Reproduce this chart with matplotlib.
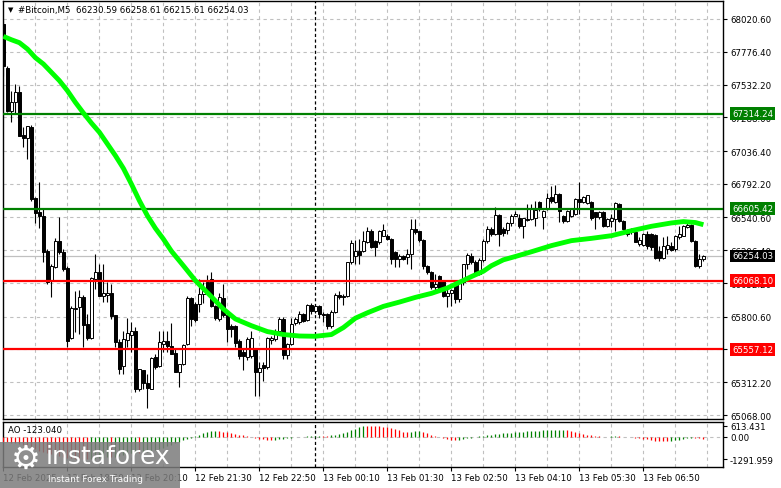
import numpy as np
import matplotlib
matplotlib.use("Agg")
import matplotlib.pyplot as plt
from matplotlib.patches import Rectangle
from matplotlib.transforms import blended_transform_factory

# M5 candles, #Bitcoin, 12 Feb 17:30 .. 13 Feb 08:05
opens = [
    67983, 67653, 67337, 67399, 67474, 67156, 67131, 67213, 66684, 66579,
    66554, 66288, 66070, 66169, 66368, 66281, 66162, 65640, 65858, 65871,
    65950, 65747, 65640, 66082, 66132, 65958, 65963, 65978, 65814, 65610,
    65436, 65630, 65667, 65692, 65262, 65406, 65307, 65262, 65498, 65436,
    65597, 65617, 65585, 65530, 65386, 65448, 65597, 65940, 65896, 65896,
    65970, 66060, 66082, 65883, 65784, 65938, 65814, 65734, 65734, 65622,
    65540, 65498, 65505, 65560, 65386, 65440, 65424, 65627, 65635, 65697,
    65784, 65515, 65597, 65751, 65764, 65821, 65779, 65888, 65846, 65878,
    65821, 65821, 65734, 65838, 65963, 65958, 65958, 66206, 66256, 66294,
    66294, 66360, 66443, 66368, 66355, 66405, 66405, 66380, 66281, 66231,
    66256, 66244, 66269, 66455, 66437, 66375, 66181, 66132, 66020, 66107,
    66070, 65953, 65978, 66040, 65930, 66057, 66194, 66251, 66211, 66119,
    66226, 66368, 66455, 66418, 66559, 66455, 66450, 66500, 66554, 66534,
    66475, 66529, 66529, 66534, 66654, 66542, 66604, 66691, 66659, 66716,
    66554, 66517, 66554, 66567, 66679, 66654, 66649, 66654, 66579, 66542,
    66584, 66480, 66517, 66529, 66641, 66517, 66450, 66430, 66430, 66343,
    66336, 66418, 66418, 66410, 66293, 66236, 66306, 66326, 66306, 66393,
    66405, 66467, 66485, 66368, 66177, 66230.59,
]
highs = [
    68008, 67673, 67486, 67536, 67524, 67213, 67225, 67230, 66691, 66803,
    66604, 66306, 66194, 66385, 66542, 66306, 66181, 65878, 65995, 66000,
    65963, 65821, 66095, 66269, 66194, 66194, 66057, 66045, 65814, 65635,
    65697, 65791, 65759, 65722, 65411, 65406, 65374, 65498, 65523, 65697,
    65697, 65697, 65754, 65560, 65448, 65597, 65958, 65945, 65908, 66082,
    66060, 66110, 66132, 65890, 65980, 66045, 65845, 65746, 65740, 65635,
    65565, 65650, 65697, 65570, 65466, 65466, 65650, 65660, 65710, 65800,
    65800, 65605, 65790, 65800, 65840, 65830, 65898, 65900, 65895, 65885,
    65835, 65830, 65850, 65975, 65990, 65970, 66210, 66370, 66370, 66380,
    66440, 66468, 66455, 66375, 66450, 66492, 66415, 66385, 66290, 66269,
    66262, 66306, 66530, 66530, 66440, 66380, 66185, 66140, 66120, 66110,
    66075, 66008, 66008, 66060, 66065, 66194, 66276, 66276, 66220, 66240,
    66380, 66480, 66470, 66616, 66565, 66470, 66505, 66570, 66590, 66567,
    66540, 66641, 66641, 66666, 66660, 66600, 66721, 66778, 66783, 66720,
    66560, 66600, 66615, 66685, 66808, 66700, 66710, 66660, 66585, 66590,
    66590, 66535, 66567, 66659, 66650, 66520, 66455, 66460, 66440, 66393,
    66425, 66440, 66425, 66415, 66326, 66393, 66405, 66355, 66410, 66475,
    66485, 66500, 66490, 66370, 66268, 66258.61,
]
lows = [
    67598, 67325, 67250, 67312, 67146, 67064, 66977, 66666, 66500, 66460,
    66206, 66045, 65945, 66162, 66268, 66144, 65573, 65635, 65684, 65672,
    65573, 65630, 65635, 66008, 65953, 65913, 65908, 65784, 65573, 65374,
    65374, 65573, 65535, 65237, 65250, 65262, 65118, 65262, 65411, 65424,
    65535, 65535, 65523, 65386, 65274, 65441, 65590, 65729, 65764, 65833,
    65900, 65980, 65870, 65780, 65770, 65800, 65610, 65647, 65573, 65486,
    65400, 65480, 65490, 65212, 65212, 65320, 65410, 65600, 65620, 65680,
    65486, 65486, 65590, 65740, 65750, 65760, 65770, 65820, 65830, 65790,
    65760, 65710, 65720, 65830, 65930, 65890, 65950, 66194, 66194, 66194,
    66280, 66350, 66310, 66256, 66345, 66400, 66370, 66194, 66169, 66169,
    66220, 66194, 66157, 66420, 66360, 66157, 66120, 66010, 65995, 65985,
    65950, 65870, 65883, 65900, 65910, 66040, 66157, 66194, 66112, 66110,
    66210, 66350, 66400, 66410, 66326, 66400, 66420, 66480, 66550, 66460,
    66385, 66515, 66520, 66480, 66590, 66455, 66595, 66650, 66650, 66510,
    66500, 66505, 66545, 66560, 66570, 66645, 66640, 66520, 66455, 66530,
    66470, 66470, 66467, 66442, 66505, 66445, 66405, 66420, 66355, 66331,
    66330, 66306, 66300, 66231, 66219, 66231, 66268, 66293, 66293, 66380,
    66400, 66460, 66360, 66174, 66162, 66215.61,
]
closes = [
    67673, 67337, 67399, 67474, 67151, 67131, 67220, 66679, 66572, 66554,
    66286, 66057, 66182, 66368, 66281, 66157, 65622, 65863, 65868, 65950,
    65742, 65640, 66087, 66132, 65958, 65978, 65978, 65804, 65610, 65411,
    65635, 65679, 65692, 65262, 65411, 65307, 65267, 65493, 65424, 65615,
    65622, 65585, 65523, 65386, 65448, 65592, 65940, 65784, 65779, 65970,
    65990, 65995, 65883, 65790, 65945, 65814, 65709, 65709, 65605, 65510,
    65510, 65635, 65640, 65386, 65416, 65420, 65640, 65640, 65697, 65784,
    65515, 65597, 65746, 65784, 65821, 65771, 65888, 65846, 65883, 65821,
    65814, 65734, 65838, 65963, 65945, 65945, 66206, 66350, 66294, 66260,
    66368, 66443, 66318, 66318, 66443, 66450, 66380, 66231, 66231, 66256,
    66231, 66269, 66455, 66430, 66375, 66181, 66132, 66020, 66045, 65995,
    65958, 65978, 66003, 65930, 66050, 66194, 66261, 66211, 66119, 66226,
    66368, 66455, 66418, 66559, 66418, 66425, 66500, 66549, 66567, 66475,
    66534, 66524, 66604, 66599, 66604, 66592, 66684, 66666, 66716, 66592,
    66517, 66592, 66604, 66679, 66654, 66691, 66708, 66534, 66542, 66579,
    66480, 66529, 66534, 66649, 66517, 66455, 66418, 66450, 66360, 66375,
    66418, 66326, 66318, 66236, 66236, 66331, 66336, 66301, 66400, 66418,
    66475, 66485, 66368, 66177, 66231, 66254.03,
]

# moving average (green line), read at selected bars
ma_bars = [0, 2, 4, 6, 8, 10, 12, 14, 16, 18, 20, 22, 24, 26, 28, 30, 32, 34, 36, 38,
           40, 42, 45, 48, 52, 55, 58, 62, 66, 70, 74, 78, 82, 85, 88, 91, 95, 99, 103, 107,
           111, 114, 117, 120, 122, 125, 128, 132, 137, 142, 147, 152, 157, 162, 167, 170, 173, 175]
ma_vals = [67891, 67866, 67844, 67797, 67732, 67685, 67623, 67561, 67486, 67399,
           67320, 67245, 67176, 67089, 67002, 66907, 66790, 66666, 66554, 66460,
           66380, 66290, 66181, 66070, 65950, 65858, 65784, 65734, 65690, 65668,
           65657, 65655, 65668, 65720, 65790, 65830, 65878, 65910, 65945, 65975,
           66015, 66057, 66100, 66140, 66181, 66225, 66250, 66285, 66331, 66368,
           66385, 66405, 66442, 66475, 66500, 66510, 66503, 66487]

# Awesome Oscillator
ao = [
    -310, -330, -360, -390, -430, -490, -560, -640, -720, -800,
    -880, -950, -1010, -1070, -1120, -1160, -1200, -1230, -1255, -1270,
    -1282, -1291.959, -1275, -1250, -1220, -1190, -1160, -1170, -1140, -1100,
    -1060, -1010, -960, -930, -935, -910, -880, -840, -790, -730,
    -650, -560, -470, -390, -280, -200, -130, -60, 20, 110,
    190, 260, 310, 330, 300, 270, 240, 200, 160, 110,
    70, 20, -30, -70, -110, -150, -180, -200, -185, -160,
    -130, -100, -70, -40, -20, -5, 15, 35, 50, 60,
    55, 50, 70, 100, 140, 200, 280, 370, 460, 540,
    613.431, 605, 598, 590, 585, 575, 540, 500, 450, 380,
    290, 270, 285, 310, 330, 280, 200, 110, 40, -10,
    -60, -120, -170, -194, -170, -130, -90, -50, -15, 20,
    50, 80, 110, 140, 165, 190, 210, 230, 250, 265,
    280, 295, 305, 320, 335, 350, 360, 370, 378, 385,
    390, 360, 310, 260, 210, 160, 115, 75, 40, 15,
    5, -8, 10, 20, 12, 0, -10, -25, -50, -80,
    -120, -160, -200, -230, -250, -260, -265, -240, -210, -170,
    -130, -90, -60, -80, -100, -123.04,
]

price_ticks = [68020.60, 67776.40, 67532.20, 67288.00, 67036.40, 66792.20, 66540.60,
               66296.40, 66052.20, 65800.60, 65556.40, 65312.20, 65068.00]
time_bars = [0, 16, 32, 48, 64, 80, 96, 112, 128, 144, 160]
time_labels = ["12 Feb 2025", "12 Feb 18:50", "12 Feb 20:10", "12 Feb 21:30", "12 Feb 22:50",
               "13 Feb 00:10", "13 Feb 01:30", "13 Feb 02:50", "13 Feb 04:10", "13 Feb 05:30",
               "13 Feb 06:50"]
green_levels = [67314.24, 66605.42]
red_levels = [66068.10, 65557.12]
day_sep = 78

FS = 6.2
o = np.array(opens); h = np.array(highs); l = np.array(lows); c = np.array(closes)
x = np.arange(len(c))

fig = plt.figure(figsize=(7.81, 4.89), dpi=100)
ax = fig.add_axes([3/781, 69/489, 720/781, 418/489])
ax2 = fig.add_axes([3/781, 21/489, 720/781, 45/489])

grid_kw = dict(color='#c0c0c0', lw=0.8, ls=(0, (3, 3)), zorder=0)
for p in price_ticks:
    ax.axhline(p, **grid_kw)
for b in range(8, 180, 8):
    ax.axvline(b, **grid_kw)
    ax2.axvline(b, **grid_kw)
ax2.axhline(0, **grid_kw)
for a in (ax, ax2):
    a.axvline(day_sep, color='black', lw=0.9, ls=(0, (2.5, 2)), zorder=1)

# current price line
ax.axhline(c[-1], color='#c0c0c0', lw=0.9, zorder=1)

# candles
up = c >= o
ax.vlines(x, l, h, color='black', lw=0.8, zorder=3)
bottom = np.minimum(o, c)
height = np.maximum(np.abs(c - o), 2)
ax.bar(x[up], height[up], bottom=bottom[up], width=0.6, facecolor='white',
       edgecolor='black', linewidth=0.7, zorder=4)
ax.bar(x[~up], height[~up], bottom=bottom[~up], width=0.6, facecolor='black',
       edgecolor='black', linewidth=0.7, zorder=4)

# levels
for lv in green_levels:
    ax.axhline(lv, color='#008000', lw=1.6, zorder=5)
for lv in red_levels:
    ax.axhline(lv, color='#ff0000', lw=1.6, zorder=5)

ax.plot(ma_bars, ma_vals, color='#00ff00', lw=3.5, zorder=6, solid_capstyle='butt')

ax.set_xlim(-0.1, 179.9)
ax.set_ylim(65038.2, 68154.8)
ax.set_xticks([])
ax.yaxis.tick_right()
ax.set_yticks(price_ticks)
ax.set_yticklabels([f"{p:.2f}" for p in price_ticks])
ax.tick_params(axis='y', length=3, width=0.8, pad=2, labelsize=FS)

trans = blended_transform_factory(ax.transAxes, ax.transData)
def tag(a, tr, val, fc):
    a.annotate(f"{val:.2f}", xy=(1, val), xycoords=tr, xytext=(6.5, 0),
               textcoords='offset points', ha='left', va='center', color='white',
               fontsize=FS, annotation_clip=False, zorder=10,
               bbox=dict(boxstyle='square,pad=0.22', fc=fc, ec='none'))
for lv in green_levels:
    tag(ax, trans, lv, '#008000')
for lv in red_levels:
    tag(ax, trans, lv, '#ff0000')
tag(ax, trans, c[-1], 'black')

# AO panel
ao_arr = np.array(ao)
ao_col = ['#ff0000'] + ['#008000' if ao_arr[i] > ao_arr[i - 1] else '#ff0000'
                        for i in range(1, len(ao_arr))]
ax2.vlines(x, 0, ao_arr, colors=ao_col, lw=0.9, zorder=3)
ax2.set_xlim(-0.1, 179.9)
ax2.set_ylim(-1731, 834)
ax2.yaxis.tick_right()
ax2.set_yticks([613.431, 0, -1291.959])
ax2.set_yticklabels(["613.431", "0.00", "-1291.959"])
ax2.tick_params(axis='y', length=3, width=0.8, pad=2, labelsize=FS)
ax2.set_xticks(time_bars)
ax2.set_xticklabels(time_labels)
for t in ax2.get_xticklabels():
    t.set_ha('left')
ax2.tick_params(axis='x', length=3, width=0.8, pad=1.5, labelsize=FS)
ax2.text(0.007, 0.84, f"AO {ao[-1]:.3f}", transform=ax2.transAxes, fontsize=FS,
         va='center', ha='left')

for a in (ax, ax2):
    for s in a.spines.values():
        s.set_color('black')
        s.set_linewidth(1)

# header
fig.text(8/781, 1 - 10/489, "\u25bc", fontsize=5, va='center', ha='left')
fig.text(18/781, 1 - 10/489,
         f"#Bitcoin,M5  {opens[-1]:.2f} {highs[-1]:.2f} {lows[-1]:.2f} {closes[-1]:.2f}",
         fontsize=FS, va='center', ha='left')

# watermark
fig.add_artist(Rectangle((0, 0), 180/781, 46/489, transform=fig.transFigure,
                         fc='#7c7c7c', ec='none', alpha=0.85, zorder=20))
fig.text(26/781, 1 - 459/489, "\u2699", fontsize=24, color='white', ha='center',
         va='center', zorder=21)
fig.text(46/781, 1 - 457/489, "instaforex", fontsize=18, color='white', ha='left',
         va='center', zorder=21)
fig.text(48/781, 1 - 480/489, "Instant Forex Trading", fontsize=6.5, color='white',
         ha='left', va='center', zorder=21)

fig.savefig("out.png", dpi=100)
